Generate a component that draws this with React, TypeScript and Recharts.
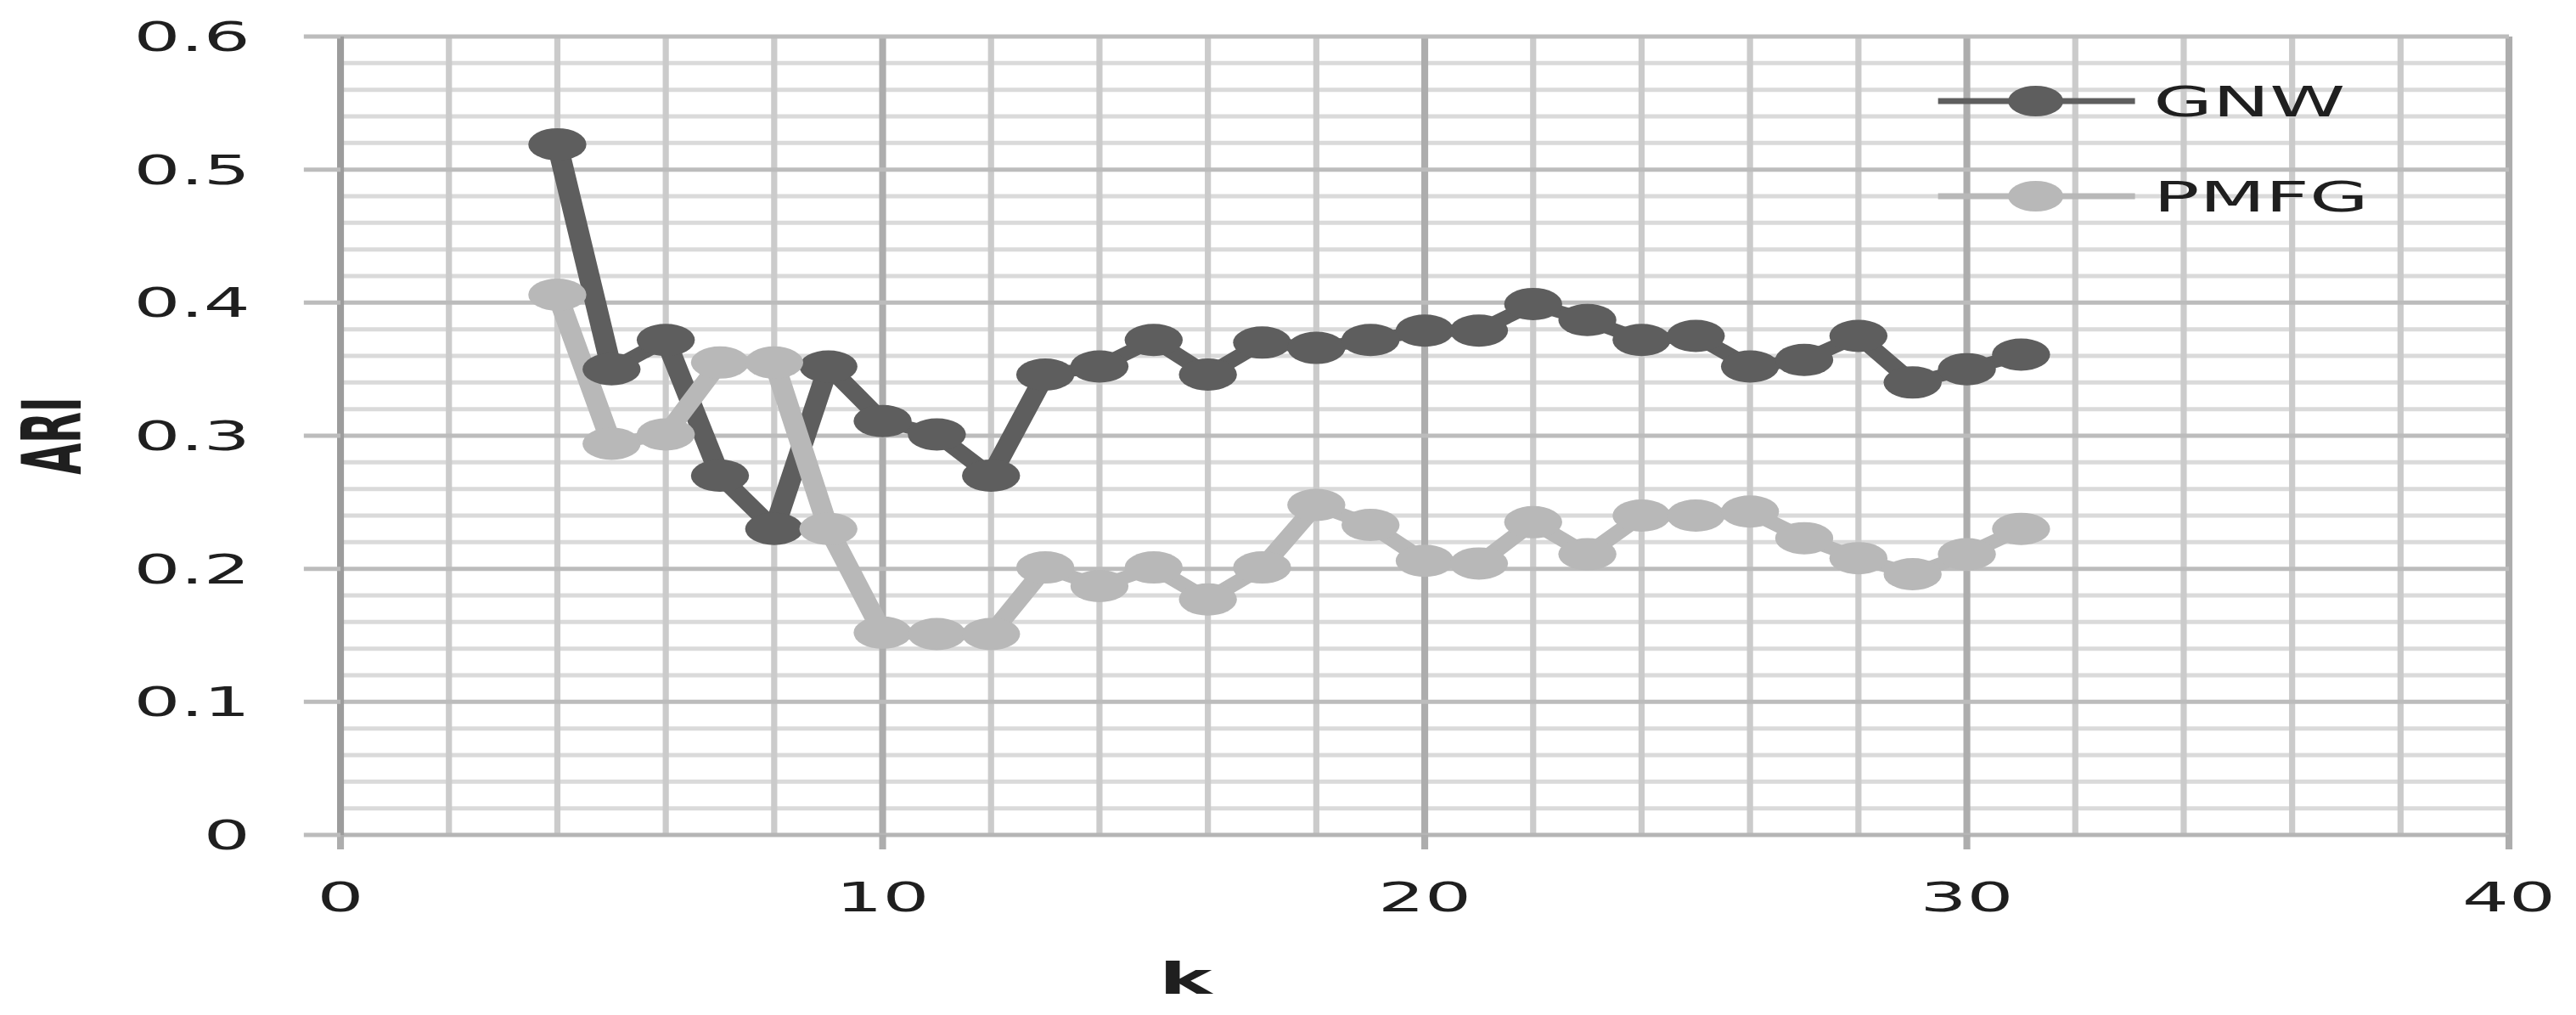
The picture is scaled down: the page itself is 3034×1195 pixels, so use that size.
import type { FC } from 'react';
import { LineChart, Line, XAxis, YAxis, CartesianGrid, Legend } from 'recharts';

// k values on the x axis and the ARI scores
const kValues = [4, 5, 6, 7, 8, 9, 10, 11, 12, 13, 14, 15, 16, 17, 18, 19, 20, 21, 22, 23, 24, 25, 26, 27, 28, 29, 30, 31];
const gnwValues = [
  0.519, 0.35, 0.372, 0.27, 0.23, 0.352, 0.311, 0.301, 0.27, 0.346, 0.352, 0.372, 0.346, 0.37,
  0.366, 0.372, 0.379, 0.379, 0.399, 0.387, 0.372, 0.375, 0.352, 0.357, 0.375, 0.34, 0.35, 0.361,
];
const pmfgValues = [
  0.406, 0.294, 0.301, 0.355, 0.355, 0.23, 0.152, 0.151, 0.151, 0.201, 0.187, 0.201, 0.177, 0.201,
  0.248, 0.233, 0.206, 0.204, 0.235, 0.211, 0.24, 0.24, 0.243, 0.223, 0.208, 0.196, 0.211, 0.23,
];

const xTicks = [0, 10, 20, 30, 40];
const yTicks = [0, 0.1, 0.2, 0.3, 0.4, 0.5, 0.6];
const xMinorGrid = [2, 4, 6, 8, 12, 14, 16, 18, 22, 24, 26, 28, 32, 34, 36, 38];
const xMajorGrid = [10, 20, 30, 40];
const yMinorGrid = [
  0.02, 0.04, 0.06, 0.08, 0.12, 0.14, 0.16, 0.18, 0.22, 0.24, 0.26, 0.28,
  0.32, 0.34, 0.36, 0.38, 0.42, 0.44, 0.46, 0.48, 0.52, 0.54, 0.56, 0.58,
];
const yMajorGrid = [0.1, 0.2, 0.3, 0.4, 0.5, 0.6];

const series = [
  { key: 'gnw', name: 'GNW', color: '#5e5e5e' },
  { key: 'pmfg', name: 'PMFG', color: '#b8b8b8' },
];

const data = kValues.map((k, i) => ({ k, gnw: gnwValues[i], pmfg: pmfgValues[i] }));

// the source figure is stretched sideways, so the chart is drawn narrow and scaled in x
const STRETCH = 1.8;
const WIDTH = 1686;
const HEIGHT = 1195;
const FONT = "'DejaVu Sans', Verdana, sans-serif";
const TEXT = '#1f1f1f';

const AriLabel: FC<{ viewBox?: { x: number; y: number; width: number; height: number } }> = ({ viewBox }) => {
  if (!viewBox) return null;
  const cx = viewBox.x + 34;
  const cy = viewBox.y + viewBox.height / 2;
  return (
    <text
      x={cx}
      y={cy}
      transform={`rotate(-90, ${cx}, ${cy})`}
      textAnchor="middle"
      dominantBaseline="central"
      fontFamily="'Liberation Sans Narrow', 'DejaVu Sans Condensed', sans-serif"
      fontWeight="bold"
      fontSize={53}
      fill={TEXT}
    >
      ARI
    </text>
  );
};

const KLabel: FC<{ viewBox?: { x: number; y: number; width: number; height: number } }> = ({ viewBox }) => {
  if (!viewBox) return null;
  return (
    <text
      x={viewBox.x + 553}
      y={viewBox.y + 169}
      textAnchor="middle"
      dominantBaseline="central"
      fontFamily={FONT}
      fontWeight="bold"
      fontSize={52}
      fill={TEXT}
    >
      k
    </text>
  );
};

const renderLegend = () => (
  <svg width={360} height={220}>
    {series.map((s, i) => {
      const y = 50 + i * 112;
      return (
        <g key={s.key}>
          <line x1={0} x2={129} y1={y} y2={y} stroke={s.color} strokeWidth={7} />
          <circle cx={64} cy={y} r={18} fill={s.color} />
          <text x={141} y={y} dominantBaseline="central" fontFamily={FONT} fontSize={50} fill={TEXT}>
            {s.name}
          </text>
        </g>
      );
    })}
  </svg>
);

const App: FC = () => {
  return (
    <div style={{ width: 3034, height: HEIGHT, margin: '-8px 0 0 -8px', overflow: 'hidden', background: '#fff' }}>
      <div style={{ width: WIDTH, height: HEIGHT, transform: `scaleX(${STRETCH})`, transformOrigin: '0 0' }}>
        <LineChart width={WIDTH} height={HEIGHT} data={data} margin={{ top: 43, right: 44.3, bottom: 92, left: 0 }}>
          <CartesianGrid horizontal vertical={false} horizontalValues={yMinorGrid} stroke="#dadada" strokeWidth={5} />
          <CartesianGrid horizontal={false} vertical verticalValues={xMinorGrid} stroke="#cbcbcb" strokeWidth={4} />
          <CartesianGrid horizontal={false} vertical verticalValues={xMajorGrid} stroke="#adadad" strokeWidth={4.5} />
          <CartesianGrid horizontal vertical={false} horizontalValues={yMajorGrid} stroke="#bcbcbc" strokeWidth={5} />
          <XAxis
            type="number"
            dataKey="k"
            domain={[0, 40]}
            ticks={xTicks}
            interval={0}
            height={120}
            tickSize={17}
            tickMargin={39}
            axisLine={{ stroke: '#b5b5b5', strokeWidth: 5 }}
            tickLine={{ stroke: '#adadad', strokeWidth: 4.5 }}
            tick={{ fill: TEXT, fontSize: 48, fontFamily: FONT }}
            label={<KLabel />}
          />
          <YAxis
            type="number"
            domain={[0, 0.6]}
            ticks={yTicks}
            interval={0}
            width={222.8}
            tickSize={24}
            tickMargin={35}
            axisLine={{ stroke: '#9c9c9c', strokeWidth: 4.5 }}
            tickLine={{ stroke: '#bcbcbc', strokeWidth: 5 }}
            tick={{ fill: TEXT, fontSize: 48, fontFamily: FONT }}
            tickFormatter={(v: number) => String(v)}
            label={<AriLabel />}
          />
          <Legend
            layout="horizontal"
            verticalAlign="middle"
            align="center"
            content={renderLegend}
            wrapperStyle={{ position: 'absolute', left: 1268, top: 69, width: 360, height: 220 }}
          />
          {series.map((s) => (
            <Line
              key={s.key}
              type="linear"
              dataKey={s.key}
              name={s.name}
              stroke={s.color}
              strokeWidth={14}
              strokeLinejoin="round"
              dot={{ r: 19, fill: s.color, stroke: 'none' }}
              activeDot={false}
              isAnimationActive={false}
            />
          ))}
        </LineChart>
      </div>
    </div>
  );
};

export default App;
